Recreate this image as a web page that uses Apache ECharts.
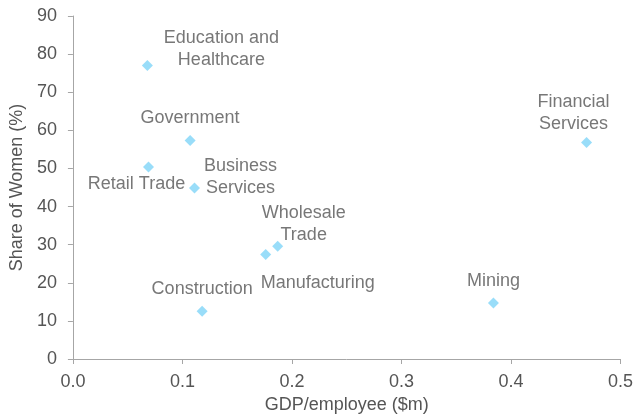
<!DOCTYPE html>
<html>
<head>
<meta charset="utf-8">
<script src="https://cdn.jsdelivr.net/npm/echarts@6/dist/echarts.min.js"></script>
<style>
  html, body { margin: 0; padding: 0; background: #fff; }
  #chart { width: 636px; height: 420px; }
</style>
</head>
<body>
<div id="chart"></div>
<script>
// sectors, GDP per employee ($m) and share of women (%)
var sectors = ['Education and\nHealthcare', 'Government', 'Retail Trade', 'Business\nServices',
               'Wholesale\nTrade', 'Manufacturing', 'Construction', 'Mining', 'Financial\nServices']
var gdpPerEmployee = [0.068, 0.107, 0.069, 0.111, 0.187, 0.176, 0.118, 0.384, 0.469]
var shareOfWomen = [77.0, 57.3, 50.4, 44.9, 29.6, 27.4, 12.5, 14.7, 56.8]

// where each label sits relative to its point (px)
var labelOffsets = [[74, -17], [0, -23], [-12, 17], [46, -11], [26, -22], [52, 28], [0, -22], [0, -22], [-13, -29]]

var txtColor = '#555555'
var axisColor = '#a6a6a6'
var font = 'Liberation Sans, Arial, sans-serif'

var points = []
for (let i = 0; i < sectors.length; i++) {
    points.push({
        name: sectors[i],
        value: [gdpPerEmployee[i], shareOfWomen[i]],
        label: { offset: labelOffsets[i] }
    })
}

var option = {
    animation: false,
    grid: { left: 70, right: 14, top: 16, bottom: 61 },
    xAxis: {
        type: 'value',
        min: 0, max: 0.5, interval: 0.1,
        name: 'GDP/employee ($m)',
        nameLocation: 'middle',
        nameGap: 36,
        nameTextStyle: { color: txtColor, fontSize: 18, fontFamily: font },
        axisLine: { lineStyle: { color: axisColor } },
        axisTick: { show: true, length: 5, lineStyle: { color: axisColor } },
        axisLabel: {
            color: txtColor, fontSize: 18, fontFamily: font, margin: 14,
            formatter: function (v) { return v.toFixed(1) }
        },
        splitLine: { show: false }
    },
    yAxis: {
        type: 'value',
        min: 0, max: 90, interval: 10,
        name: 'Share of Women (%)',
        nameLocation: 'middle',
        nameGap: 46,
        nameTextStyle: { color: txtColor, fontSize: 18, fontFamily: font },
        axisLine: { show: true, lineStyle: { color: axisColor } },
        axisTick: { show: true, length: 5, lineStyle: { color: axisColor } },
        axisLabel: { color: txtColor, fontSize: 18, fontFamily: font, margin: 16 },
        splitLine: { show: false }
    },
    series: [{
        type: 'scatter',
        symbol: 'diamond',
        symbolSize: 11,
        itemStyle: { color: '#7fd5f8' },
        label: {
            show: true,
            position: 'inside',
            align: 'center',
            verticalAlign: 'middle',
            formatter: '{b}',
            color: txtColor,
            fontSize: 18,
            lineHeight: 22,
            fontFamily: font
        },
        data: points
    }]
}

var myChart = echarts.init(document.getElementById('chart'))
myChart.setOption(option)
</script>
</body>
</html>
